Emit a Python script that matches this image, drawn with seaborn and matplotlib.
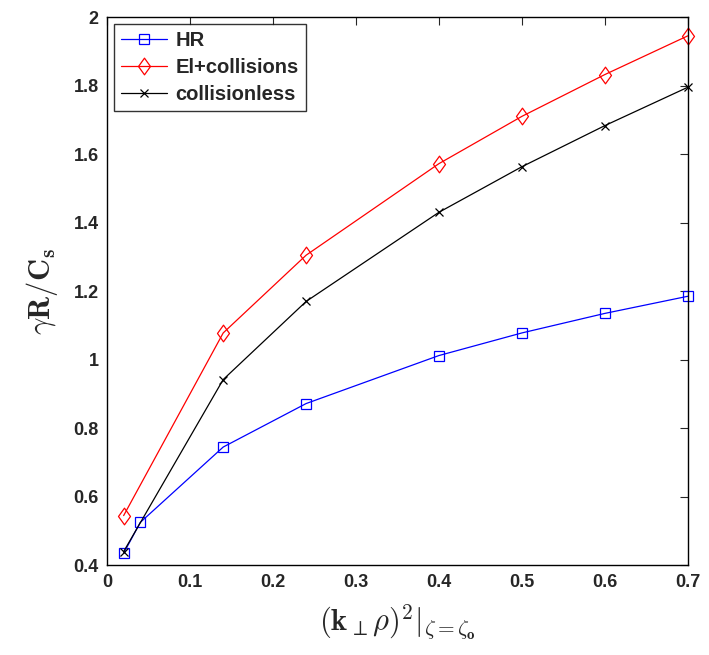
import matplotlib
matplotlib.use("Agg")
import matplotlib.pyplot as plt
import seaborn as sns
import pandas as pd
from matplotlib.font_manager import FontProperties
from matplotlib.path import Path

hr_x = [0.02, 0.04, 0.14, 0.24, 0.4, 0.5, 0.6, 0.7]
hr_y = [0.435, 0.525, 0.745, 0.872, 1.012, 1.078, 1.135, 1.185]
el_x = [0.02, 0.14, 0.24, 0.4, 0.5, 0.6, 0.7]
el_y = [0.545, 1.078, 1.305, 1.572, 1.71, 1.832, 1.945]
cl_x = [0.02, 0.14, 0.24, 0.4, 0.5, 0.6, 0.7]
cl_y = [0.44, 0.942, 1.17, 1.43, 1.563, 1.683, 1.795]
series_names = ["HR", "El+collisions", "collisionless"]
xticks = [0, 0.1, 0.2, 0.3, 0.4, 0.5, 0.6, 0.7]
xticklabels = ["0", "0.1", "0.2", "0.3", "0.4", "0.5", "0.6", "0.7"]
yticks = [0.4, 0.6, 0.8, 1.0, 1.2, 1.4, 1.6, 1.8, 2.0]
yticklabels = ["0.4", "0.6", "0.8", "1", "1.2", "1.4", "1.6", "1.8", "2"]

sns.set_style("white")
plt.rcParams["font.family"] = ["Liberation Sans", "DejaVu Sans"]
plt.rcParams["mathtext.fontset"] = "cm"

df = pd.concat([
    pd.DataFrame({"x": hr_x, "y": hr_y, "s": series_names[0]}),
    pd.DataFrame({"x": el_x, "y": el_y, "s": series_names[1]}),
    pd.DataFrame({"x": cl_x, "y": cl_y, "s": series_names[2]}),
])

fig = plt.figure(figsize=(7.09, 6.55), dpi=100)
ax = fig.add_axes([0.151, 0.137, 0.819, 0.837])

diamond = Path([(0, 1), (0.72, 0), (0, -1), (-0.72, 0), (0, 1)],
               [Path.MOVETO, Path.LINETO, Path.LINETO, Path.LINETO, Path.CLOSEPOLY])
colors = {"HR": "#0000ff", "El+collisions": "#ff0000", "collisionless": "#000000"}
markers = {"HR": "s", "El+collisions": diamond, "collisionless": "x"}
msizes = {"HR": 7, "El+collisions": 12, "collisionless": 6}
for name in series_names:
    sub = df[df["s"] == name]
    sns.lineplot(data=sub, x="x", y="y", ax=ax, color=colors[name], lw=0.9,
                 marker=markers[name], markersize=msizes[name],
                 markerfacecolor="none", markeredgecolor=colors[name],
                 markeredgewidth=0.9, label=name, estimator=None, sort=False,
                 clip_on=False, zorder=3)

ax.set_xlim(0, 0.7)
ax.set_ylim(0.4, 2.0)
ax.set_xticks(xticks)
ax.set_xticklabels(xticklabels)
ax.set_yticks(yticks)
ax.set_yticklabels(yticklabels)
ax.tick_params(direction="in", top=True, right=True, length=6, width=0.8,
               labelsize=13, pad=6)
for lab in ax.get_xticklabels() + ax.get_yticklabels():
    lab.set_fontweight("bold")
for sp in ax.spines.values():
    sp.set_visible(True)
    sp.set_color("black")
    sp.set_linewidth(1.0)
    sp.set_zorder(5)

ax.set_xlabel(r"$(\mathbf{k}_{\perp}\rho)^{\mathbf{2}}|_{\zeta=\zeta_{\mathbf{o}}}$", fontsize=22, labelpad=8)
ax.set_ylabel(r"$\gamma\mathbf{R}/\mathbf{C_s}$", fontsize=22, labelpad=10)

fp = FontProperties(family=["Liberation Sans", "DejaVu Sans"], weight="bold", size=14.5)
leg = ax.legend(loc="upper left", frameon=True, fancybox=False, prop=fp,
                borderaxespad=0.35, handlelength=2.3, labelspacing=0.4,
                borderpad=0.35, handletextpad=0.4)
leg.get_frame().set_edgecolor("black")
leg.get_frame().set_linewidth(1.0)
leg.set_zorder(10)

fig.savefig("out.png", dpi=100)
